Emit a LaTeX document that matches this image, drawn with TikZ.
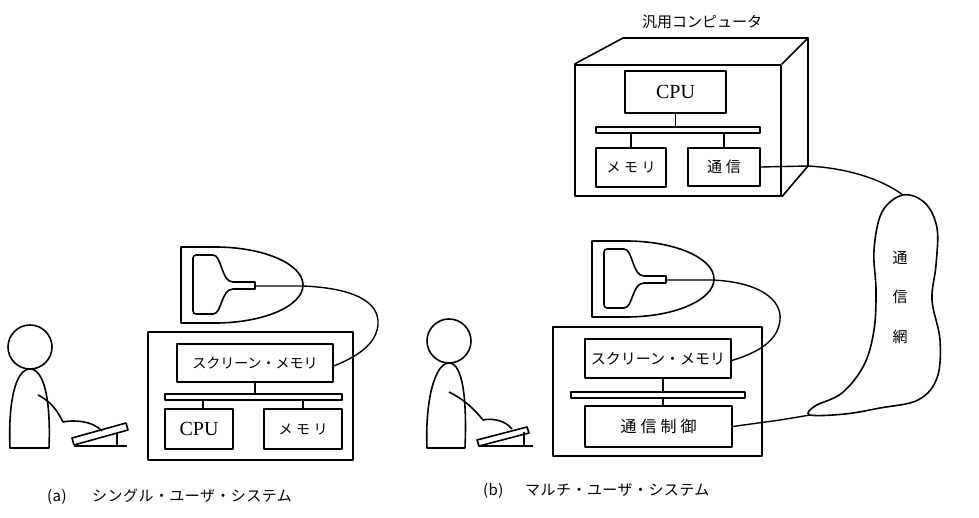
\documentclass[tikz,border=0pt]{standalone}
\usepackage{fontspec}
\setmainfont{Liberation Serif}
\newfontfamily\jp{Noto Sans CJK JP}
\newfontfamily\jpwide{Noto Sans CJK JP}[LetterSpace=25]
\newfontfamily\jpcap{Noto Sans CJK JP}[LetterSpace=3]
\begin{document}
\begin{tikzpicture}[x=1pt,y=-1pt,
  line join=round,
  box/.style={draw, line width=1.6pt, inner sep=0pt, anchor=center},
  busbar/.style={draw, line width=1.2pt, inner sep=0pt},
  link/.style={line width=1.4pt},
  wire/.style={line width=1.4pt},
  fig/.style={line width=1.6pt},
  latin/.style={font=\fontsize{20}{20}\selectfont},
  kana/.style={font=\jp\fontsize{14}{14}\selectfont},
  kanaw/.style={font=\jpwide\fontsize{14}{14}\selectfont},
  caption/.style={font=\jpcap\fontsize{15}{15}\selectfont, anchor=west, inner sep=0pt}]
\useasboundingbox (0,0) rectangle (979,518);

% ---------------- (a) single-user system ----------------
% user
\draw[fig] (30,347) circle (22);
\draw[fig] (10,448) .. controls (8,400) and (16,369) .. (30,369)
           .. controls (44,369) and (51,400) .. (49,448) -- cycle;
\draw[fig] (38,395) .. controls (52,402) and (58,412) .. (63,422)
           .. controls (72,420) and (92,420) .. (102,431);
% keyboard
\draw[fig] (72,438) -- (126,423) -- (128,430) -- (74,445) -- cycle;
\draw[fig] (74,446) -- (127,446);
\draw[fig] (117,433) -- (117,446);

% display unit
\begin{scope}
  \draw[fig] (181,247) -- (215,247) .. controls (263.6,247) and (303,264) .. (303,285)
             .. controls (303,306) and (263.6,323) .. (215,323) -- (181,323) -- cycle;
  \draw[fig] (213,255) .. controls (222,255) and (221,282) .. (233,282) -- (255,282)
             -- (255,289) -- (233,289) .. controls (221,289) and (222,314) .. (213,314)
             [rounded corners=3pt] -- (193,314) -- (193,255) -- (213,255);
  \coordinate (aneck) at (255,286);
\end{scope}

% computer
\node[box, minimum width=205, minimum height=128] (acomp) at (250.5,396) {};
\node[box, kana, minimum width=156, minimum height=38] (asmem) at (255,363) {スクリーン・メモリ};
\node[busbar, minimum width=177, minimum height=6] (abus) at (253.5,397) {};
\node[box, latin, minimum width=68, minimum height=40] (acpu) at (199,429) {CPU};
\node[box, kanaw, minimum width=78, minimum height=40] (amem) at (303,429) {メモリ};
\draw[link] (asmem.south) -- (asmem.south |- abus.north);
\draw[link] ([xshift=4pt]acpu.north) -- ([xshift=4pt]acpu.north |- abus.south);
\draw[link] (amem.north) -- (amem.north |- abus.south);

% display cable
\draw[wire] (aneck) -- (303,286) .. controls (350,288) and (380,300) .. (378,325)
            .. controls (376,345) and (356,357) .. ([yshift=-3pt]asmem.east);

% ---------------- (b) multi-user system ----------------
% user
\draw[fig] (449,341) circle (22);
\draw[fig] (427,448) .. controls (425,400) and (435,363) .. (449,363)
           .. controls (463,363) and (467,400) .. (465,448) -- cycle;
\draw[fig] (449,392) .. controls (465,400) and (475,410) .. (483,420)
           .. controls (491,418) and (505,420) .. (512,429);
% keyboard
\draw[fig] (477,440) -- (527,427) -- (529,433) -- (479,446) -- cycle;
\draw[fig] (479,446) -- (533,446);
\draw[fig] (524,432) -- (524,446);

% display unit
\begin{scope}[shift={(411,-6)}]
  \draw[fig] (181,247) -- (215,247) .. controls (263.6,247) and (303,264) .. (303,285)
             .. controls (303,306) and (263.6,323) .. (215,323) -- (181,323) -- cycle;
  \draw[fig] (213,255) .. controls (222,255) and (221,282) .. (233,282) -- (255,282)
             -- (255,289) -- (233,289) .. controls (221,289) and (222,314) .. (213,314)
             [rounded corners=3pt] -- (193,314) -- (193,255) -- (213,255);
  \coordinate (bneck) at (255,286);
\end{scope}

% terminal
\node[box, minimum width=209, minimum height=129] (bcomp) at (657.5,391.5) {};
\node[box, font=\jp\fontsize{15}{15}\selectfont, minimum width=146, minimum height=39] (bsmem) at (658,358.5) {スクリーン・メモリ};
\node[busbar, minimum width=174, minimum height=6] (bbus) at (658,395) {};
\node[box, font=\jpwide\fontsize{16}{16}\selectfont, minimum width=147, minimum height=41] (bctrl) at (658.5,426.5) {通信制御};
\draw[link] ([xshift=5pt]bsmem.south) -- ([xshift=5pt]bsmem.south |- bbus.north);
\draw[link] ([xshift=4.5pt]bctrl.north) -- ([xshift=4.5pt]bctrl.north |- bbus.south);

% display cable
\draw[wire] (bneck) -- (712,280) .. controls (760,282) and (782,300) .. (780,320)
            .. controls (778,340) and (760,352) .. ([yshift=-2pt]bsmem.east);

% general-purpose computer
\node[anchor=west, inner sep=0pt, font=\jp\fontsize{15}{15}\selectfont] (mlabel) at (642,22) {汎用コンピュータ};
\node[box, minimum width=206, minimum height=131] (mfront) at (678,130.5) {};
\draw[fig] (mfront.north west) -- (623,38) -- (808,38) -- (mfront.north east);
\draw[fig] (808,38) -- (808,166) -- (mfront.south east);
\node[box, latin, minimum width=101, minimum height=42] (mcpu) at (675.5,92) {CPU};
\node[busbar, minimum width=164, minimum height=6] (mbus) at (678,130) {};
\node[box, kanaw, minimum width=70, minimum height=39] (mmem) at (631,167.5) {メモリ};
\node[box, font=\jpwide\fontsize{15}{15}\selectfont, minimum width=72, minimum height=38] (mcomm) at (724,167) {通信};
\draw[link] (mcpu.south) -- (mcpu.south |- mbus.north);
\draw[link] (mmem.north) -- (mmem.north |- mbus.south);
\draw[link] (mcomm.north) -- (mcomm.north |- mbus.south);

% communication network
\coordinate (ntop) at (903,195);
\coordinate (nleft) at (810,415);
\draw[fig] plot[smooth cycle, tension=0.6] coordinates {
  (ntop) (925,203) (937,228) (936,265) (932,300) (940,340) (937,378) (918,400)
  (880,408) (845,414) (nleft) (815,406) (842,393) (864,365) (874,330) (876,290)
  (874,250) (882,212)};
\node[font=\jp\fontsize{15}{15}\selectfont] (n1) at (900,258) {通};
\node[font=\jp\fontsize{15}{15}\selectfont] (n2) at (900,297) {信};
\node[font=\jp\fontsize{15}{15}\selectfont] (n3) at (900,337) {網};

% network lines
\draw[wire] (mcomm.east) -- (808,166) .. controls (845,168) and (880,178) .. (ntop);
\draw[wire] (bctrl.east) -- (780,420) -- (nleft);

% captions
\node[caption] (capa) at (47,497) {\makebox[26pt][l]{(a)}\hspace{19pt}シングル・ユーザ・システム};
\node[caption] (capb) at (483,491) {\makebox[26pt][l]{(b)}\hspace{16pt}マルチ・ユーザ・システム};
\end{tikzpicture}
\end{document}
